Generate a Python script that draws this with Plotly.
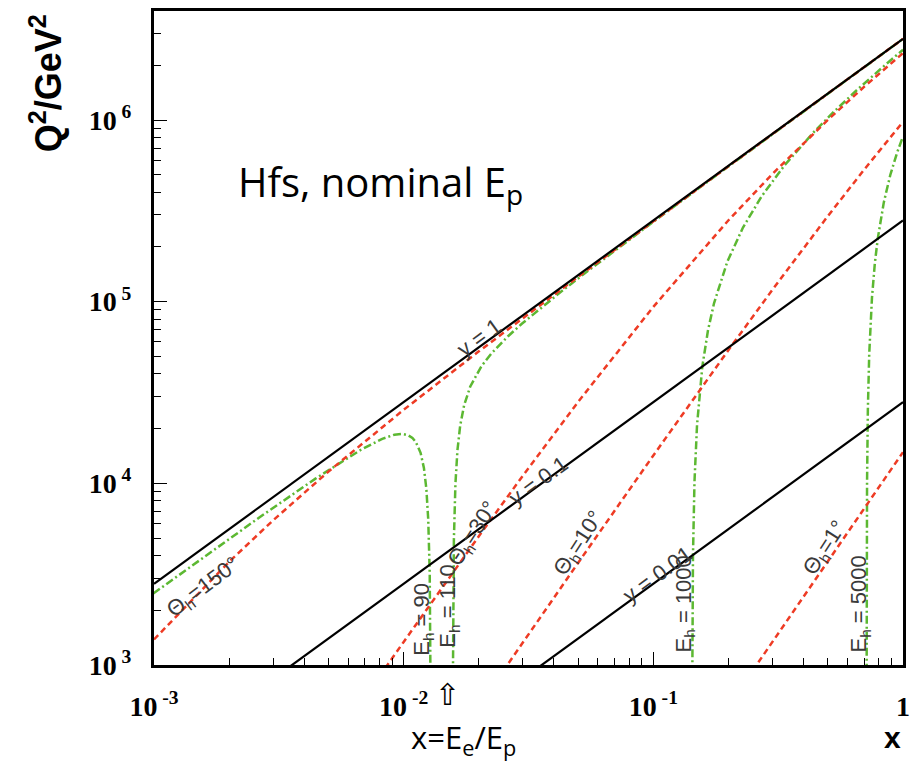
import plotly.graph_objects as go

# ---------------- data ----------------
# lines of constant y (Q2 = s*x*y)
x_ends = [0.001, 1.0]
q2_y1 = [2800, 2800000]
q2_y01 = [280, 280000]
q2_y001 = [28, 28000]

# lines of constant hadronic angle theta_h (red, dashed)
x_th150 = [0.001, 0.002, 0.003, 0.005, 0.01, 0.02, 0.05, 0.1, 0.2, 0.5, 1.0]
q2_th150 = [1382, 3702, 6260, 11617, 25395, 53268, 137186, 277157, 557143, 1397134, 2797134]

x_th30 = [0.008, 0.0086, 0.01, 0.02, 0.03, 0.05, 0.1, 0.2, 0.3, 0.5, 0.7, 1.0]
q2_th30 = [866, 998, 1340, 5115, 11006, 28115, 93653, 280722, 505036, 1001470, 1526180, 2335320]

x_th10 = [0.025, 0.026, 0.03, 0.05, 0.1, 0.2, 0.3, 0.5, 0.7, 1.0]
q2_th10 = [925, 1000, 1329, 3653, 14239, 54202, 116323, 295812, 534607, 976845]

x_th1 = [0.25, 0.3, 0.4, 0.5, 0.7, 1.0]
q2_th1 = [932, 1341, 2383, 3722, 7287, 14848]

# lines of constant hadronic energy E_h (green, dash-dot)
x_e90 = [0.000615, 0.001, 0.001699, 0.002624, 0.004434, 0.005757, 0.006767, 0.008207,
         0.009184, 0.00989, 0.010425, 0.010843, 0.01118, 0.011688, 0.012054, 0.012329,
         0.012543, 0.012716, 0.01279, 0.012818, 0.012838]
q2_e90 = [1542, 2496, 4217, 6447, 10615, 13419, 15348, 17579,
          18515, 18692, 18390, 17761, 16904, 14727, 12150, 9321,
          6322, 3204, 1611, 969, 485]

x_e110 = [0.015738, 0.015746, 0.015763, 0.015797, 0.015891, 0.016117, 0.016418, 0.016837,
          0.01746, 0.018487, 0.020497, 0.022449, 0.02619, 0.02973, 0.036264, 0.04374,
          0.052381, 0.082313, 0.10645, 0.157143, 0.33175, 0.83061, 1.0]
q2_e110 = [727, 970, 1456, 2433, 4894, 9928, 15170, 20743,
           26889, 34164, 44192, 51857, 64533, 75544, 94939, 116531,
           141167, 225640, 293440, 435600, 924716, 2321700, 2796000]

x_e1000 = [0.14305, 0.143179, 0.143504, 0.144156, 0.146154, 0.149624, 0.157143, 0.165546,
           0.175, 0.19796, 0.228571, 0.271429, 0.335714, 0.442857, 0.528571, 0.657143,
           0.871429, 1.0]
q2_e1000 = [601, 1002, 2009, 4036, 10231, 20947, 44000, 69529,
            98000, 166286, 256000, 380000, 564000, 868000, 1110000, 1472000,
            2074000, 2434800]

x_e5000 = [0.714461, 0.714636, 0.715162, 0.71604, 0.717803, 0.723146, 0.732234, 0.751128,
           0.771043, 0.792064, 0.814286, 0.837815, 0.889286, 0.947619, 1.0]
q2_e5000 = [500, 1000, 2503, 5012, 10049, 25310, 51256, 105158,
            161919, 221778, 285000, 351882, 498000, 663333, 811594]

# axis ticks
x_tickvals = [0.001, 0.01, 0.1, 1]
x_ticktext = ["10<sup> -3</sup>", "10<sup> -2</sup>", "10<sup> -1</sup>", "1"]
y_tickvals = [1e3, 1e4, 1e5, 1e6]
y_ticktext = ["10<sup> 3</sup>", "10<sup> 4</sup>", "10<sup> 5</sup>", "10<sup> 6</sup>"]

# curve labels: (text, pixel x, pixel y, angle)
curve_labels = [
    ("y = 1", 481, 336, -36),
    ("y = 0.1", 541, 480, -36),
    ("y = 0.01", 660, 574, -36),
    ("Θ<sub>h</sub>=150°", 204, 588, -37),
    ("Θ<sub>h</sub>=30°", 475, 533, -57),
    ("Θ<sub>h</sub>=10°", 581, 543, -57),
    ("Θ<sub>h</sub>=1°", 829, 547, -57),
    ("E<sub>h</sub> = 90", 425, 619, -90),
    ("E<sub>h</sub> = 110", 451, 606, -90),
    ("E<sub>h</sub> = 1000", 688, 604, -90),
    ("E<sub>h</sub> = 5000", 864, 604, -90),
]

# ---------------- figure ----------------
RED = "#ee3b24"
GREEN = "#5cb832"

fig = go.Figure()

green_sets = [(x_e90, q2_e90), (x_e110, q2_e110), (x_e1000, q2_e1000), (x_e5000, q2_e5000)]
for xs, ys in green_sets:
    fig.add_trace(go.Scatter(x=xs, y=ys, mode="lines",
                             line=dict(color=GREEN, width=2.5, dash="8px,3px,2px,3px"),
                             hoverinfo="skip", showlegend=False))

red_sets = [(x_th150, q2_th150), (x_th30, q2_th30), (x_th10, q2_th10), (x_th1, q2_th1)]
for xs, ys in red_sets:
    fig.add_trace(go.Scatter(x=xs, y=ys, mode="lines",
                             line=dict(color=RED, width=2.5, dash="6px,4px"),
                             hoverinfo="skip", showlegend=False))

for ys in (q2_y1, q2_y01, q2_y001):
    fig.add_trace(go.Scatter(x=x_ends, y=ys, mode="lines",
                             line=dict(color="black", width=2.2),
                             hoverinfo="skip", showlegend=False))

# plot area in pixels
L, R, T, B = 154, 907, 8, 665
W, H = 918, 761


def px(xp):
    return (xp - L) / (R - L)


def py(yp):
    return (B - yp) / (B - T)


annotations = []
for text, xp, yp, ang in curve_labels:
    annotations.append(dict(text=text, x=px(xp), y=py(yp), xref="paper", yref="paper",
                            xanchor="center", yanchor="middle", textangle=ang,
                            showarrow=False,
                            font=dict(family="Liberation Sans, Arial", size=22, color="#3a3a3a")))

annotations += [
    dict(text="Hfs, nominal E<sub>p</sub>", x=px(382), y=py(181), xref="paper", yref="paper",
         xanchor="center", yanchor="middle", showarrow=False,
         font=dict(family="Open Sans", size=40, color="black")),
    dict(text="<b>Q<sup>2</sup>/GeV<sup>2</sup></b>", x=px(45), y=py(81), xref="paper", yref="paper",
         xanchor="center", yanchor="middle", textangle=-90, showarrow=False,
         font=dict(family="Liberation Sans, Arial", size=36, color="black")),
    dict(text="<b>x</b>", x=px(896), y=py(738), xref="paper", yref="paper",
         xanchor="center", yanchor="middle", showarrow=False,
         font=dict(family="Liberation Sans, Arial", size=30, color="black")),
    dict(text="x=E<sub>e</sub>/E<sub>p</sub>", x=px(465), y=py(739), xref="paper", yref="paper",
         xanchor="center", yanchor="middle", showarrow=False,
         font=dict(family="Open Sans", size=31, color="black")),
    dict(text="⇧", x=px(449), y=py(695), xref="paper", yref="paper",
         xanchor="center", yanchor="middle", showarrow=False,
         font=dict(family="DejaVu Sans", size=30, color="black")),
]

x_minor = [k * 10.0 ** e for e in range(-3, 0) for k in range(2, 10)]
y_minor = [k * 10.0 ** e for e in range(3, 7) for k in range(2, 10)]

tickfont = dict(family="Liberation Serif, Times New Roman", size=28, color="black", weight="bold")

fig.update_layout(
    width=W, height=H,
    margin=dict(l=L, r=W - R, t=T, b=H - B, pad=0),
    paper_bgcolor="white", plot_bgcolor="white",
    showlegend=False,
    annotations=annotations,
    xaxis=dict(type="log", range=[-3, 0], showgrid=False, zeroline=False,
               showline=True, linecolor="black", linewidth=3, mirror=True,
               ticks="inside", ticklen=13, tickwidth=1, tickcolor="black",
               tickmode="array", tickvals=x_tickvals, ticktext=x_ticktext,
               ticklabelstandoff=14, tickfont=tickfont,
               minor=dict(ticks="inside", ticklen=7, tickwidth=1, tickcolor="black",
                          tickvals=x_minor, showgrid=False)),
    yaxis=dict(type="log", range=[3, 6.6], showgrid=False, zeroline=False,
               showline=True, linecolor="black", linewidth=3, mirror=True,
               ticks="inside", ticklen=13, tickwidth=1, tickcolor="black",
               tickmode="array", tickvals=y_tickvals, ticktext=y_ticktext,
               ticklabelstandoff=14, tickfont=tickfont,
               minor=dict(ticks="inside", ticklen=7, tickwidth=1, tickcolor="black",
                          tickvals=y_minor, showgrid=False)),
)

fig.write_html("out.html")
